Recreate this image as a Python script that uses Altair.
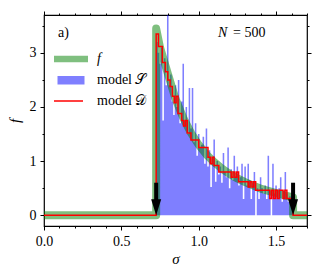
import altair as alt
import pandas as pd

# ---------------- data ----------------
hist_start = 0.725
hist_width = 0.01
hist_height = [3.2, 3.0, 2.8, 3.1, 1.75, 2.9, 2.4, 3.75, 2.4, 2.6,
               2.1, 1.85, 2.4, 2.0, 2.5, 1.7, 2.1, 2.8, 1.75, 2.0,
               1.5, 2.35, 1.6, 2.35, 1.35, 1.7, 1.1, 1.5, 1.25, 1.3,
               1.45, 0.95, 1.6, 0.9, 1.2, 0.52, 1.05, 1.4, 0.62, 1.0,
               0.75, 0.9, 0.6, 1.15, 0.8, 0.7, 1.25, 0.5, 0.85, 0.65,
               1.1, 0.7, 0.9, 0.55, 0.7, 0.95, 0.3, 0.9, 0.55, 0.95,
               0.65, 0.3, 0.6, 0.8, 0.0, 0.5, 0.3, 0.7, 0.5, 0.4,
               0.55, 0.3, 1.1, 0.45, 0.0, 0.95, 0.4, 0.55, 0.3, 0.5,
               0.7, 0.25, 0.45, 0.8, 0.4, 0.25, 0.35, 0.3, 0.2]

green_x = [0.0, 0.725, 0.725, 0.75, 0.8, 0.85, 0.9, 0.95, 1.0, 1.05, 1.1, 1.15,
           1.2, 1.25, 1.3, 1.35, 1.4, 1.45, 1.5, 1.55, 1.61, 1.61, 1.7]
green_y = [0, 0, 3.45, 3.1, 2.62, 2.15, 1.8, 1.52, 1.3, 1.12, 0.98, 0.86,
           0.76, 0.68, 0.61, 0.55, 0.49, 0.45, 0.41, 0.37, 0.33, 0, 0]

red_x = [0.0, 0.725, 0.74, 0.765, 0.785, 0.80, 0.815, 0.83, 0.842, 0.854, 0.866,
         0.89, 0.902, 0.914, 0.926, 0.95, 1.0, 1.06, 1.075, 1.087, 1.099,
         1.13, 1.21, 1.222, 1.234, 1.246, 1.258, 1.32, 1.332, 1.344, 1.356, 1.368,
         1.46, 1.472, 1.484, 1.496, 1.508, 1.52, 1.545, 1.557, 1.57, 1.61, 1.7]
red_y = [0, 3.35, 3.12, 2.82, 2.65, 2.5, 2.38, 2.2, 2.08, 2.2, 1.88,
         1.75, 1.65, 1.75, 1.52, 1.39, 1.25, 1.07, 0.95, 1.07, 0.92,
         0.8, 0.7, 0.8, 0.7, 0.8, 0.62, 0.52, 0.62, 0.52, 0.62, 0.46,
         0.31, 0.46, 0.31, 0.46, 0.31, 0.46, 0.31, 0.46, 0.31, 0, 0]

arrow_x = [0.725, 1.61]
arrow_top = [0.6, 0.6]
arrow_neck = [0.24, 0.24]
arrow_tip = [0.0, 0.0]

x_major = [0.0, 0.5, 1.0, 1.5]
x_minor = [0.1, 0.2, 0.3, 0.4, 0.6, 0.7, 0.8, 0.9, 1.1, 1.2, 1.3, 1.4, 1.6, 1.7]
y_major = [0, 1, 2, 3]
y_minor = [0.5, 1.5, 2.5, 3.5]

# ---------------- chart ----------------
FONT = "Liberation Serif"
X = alt.Scale(domain=[0, 1.7], nice=False, zero=False)
Y = alt.Scale(domain=[-0.2, 3.7], nice=False, zero=False)

hist_left = [hist_start + hist_width * i for i in range(len(hist_height))]
hist_df = pd.DataFrame({
    "x": hist_left + [hist_left[-1] + hist_width],
    "h": hist_height + [hist_height[-1]],
})
hist_df["base"] = 0.0

green_df = pd.DataFrame({"x": green_x, "y": green_y, "i": range(len(green_x))})
red_df = pd.DataFrame({"x": red_x, "y": red_y, "i": range(len(red_x))})
arrow_df = pd.DataFrame({"x": arrow_x, "top": arrow_top, "neck": arrow_neck, "tip": arrow_tip})
one = pd.DataFrame({"x": [0.0], "y": [0.0]})

hist = alt.Chart(hist_df).mark_area(color="#0000ff", opacity=0.5, interpolate="step-after",
                                    clip=True).encode(
    x=alt.X("x:Q", scale=X, axis=None),
    y=alt.Y("h:Q", scale=Y, axis=None), y2="base:Q")

green = alt.Chart(green_df).mark_line(color="#008000", opacity=0.5, strokeWidth=8,
                                      strokeCap="round", strokeJoin="round", clip=True).encode(
    x=alt.X("x:Q", scale=X, axis=None), y=alt.Y("y:Q", scale=Y, axis=None), order="i:Q")

red = alt.Chart(red_df).mark_line(color="#ff0000", strokeWidth=1.5, interpolate="step-after",
                                  clip=True).encode(
    x=alt.X("x:Q", scale=X, axis=None), y=alt.Y("y:Q", scale=Y, axis=None), order="i:Q")

shaft = alt.Chart(arrow_df).mark_rule(color="black", strokeWidth=4).encode(
    x=alt.X("x:Q", scale=X, axis=None), y=alt.Y("top:Q", scale=Y, axis=None), y2="neck:Q")
head = alt.Chart(arrow_df).mark_point(shape="M-1,-3.2L1,-3.2L0,0Z", size=100, filled=True,
                                      color="black", opacity=1, strokeWidth=0).encode(
    x=alt.X("x:Q", scale=X, axis=None), y=alt.Y("tip:Q", scale=Y, axis=None))

# legend (decoration, pixel positions inside the plot area)
leg_green = alt.Chart(one).mark_rule(color="#008000", opacity=0.5, strokeWidth=6.5).encode(
    x=alt.value(10), x2=alt.value(44), y=alt.value(44))
leg_blue = alt.Chart(one).mark_rect(color="#0000ff", opacity=0.5).encode(
    x=alt.value(13.5), x2=alt.value(40.5), y=alt.value(61), y2=alt.value(69.5))
leg_red = alt.Chart(one).mark_rule(color="#ff0000", strokeWidth=1.5).encode(
    x=alt.value(10), x2=alt.value(39), y=alt.value(86))

def txt(s, x, y, italic=False):
    return alt.Chart(one).mark_text(font=FONT, fontSize=14, align="left", baseline="middle",
                                    fontStyle="italic" if italic else "normal",
                                    color="black").encode(
        x=alt.value(x), y=alt.value(y), text=alt.value(s))

texts = [
    txt("f", 53, 44, True),
    txt("model 𝒮", 53, 65),
    txt("model 𝒟", 53, 86),
    txt("a)", 14, 18),
    txt("N", 174, 18, True),
    txt("= 500", 189, 18),
]

def axis_layer(xvals, yvals, xorient, yorient, size, labels, xtitle=None, ytitle=None):
    common = dict(tickSize=size, tickColor="black", tickWidth=1, domain=False, grid=False,
                  labels=labels, labelFont=FONT, labelFontSize=14, labelColor="black",
                  labelPadding=4, labelFlush=False, labelOverlap=False,
                  titleFont=FONT, titleFontSize=15, titleFontStyle="italic",
                  titleFontWeight="normal", titleColor="black")
    xa = alt.Axis(orient=xorient, values=xvals, format=".1f", title=xtitle, titlePadding=3, **common)
    ya = alt.Axis(orient=yorient, values=yvals, format="d", title=ytitle, titlePadding=7, **common)
    return alt.Chart(one).mark_point(opacity=0).encode(
        x=alt.X("x:Q", scale=X, axis=xa), y=alt.Y("y:Q", scale=Y, axis=ya))

axes = [
    axis_layer(x_major, y_major, "bottom", "left", 4, True, "σ", "f"),
    axis_layer(x_minor, y_minor, "bottom", "left", 2, False),
    axis_layer(x_major, y_major, "top", "right", 4, False),
    axis_layer(x_minor, y_minor, "top", "right", 2, False),
]

chart = alt.layer(hist, green, red, shaft, head, leg_green, leg_blue, leg_red,
                  *texts, *axes).resolve_axis(
    x="independent", y="independent"
).properties(
    width=263, height=211,
    autosize=alt.AutoSizeParams(type="none"),
    padding={"left": 36, "top": 7, "right": 8, "bottom": 42},
).configure_view(stroke="black", strokeWidth=1.2).configure_axis(
    labelFont=FONT, titleFont=FONT
)

chart.save("out.html", embed_options={"renderer": "svg", "actions": False})
